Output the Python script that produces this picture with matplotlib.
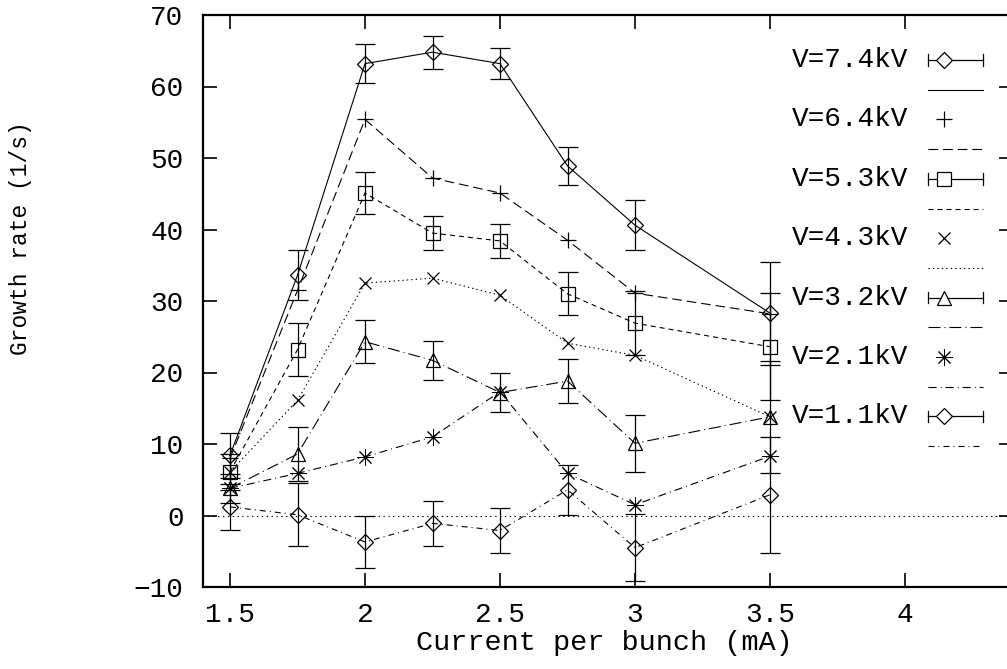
# Growth rate vs current per bunch, gnuplot-like look
import matplotlib
matplotlib.use('Agg')
import matplotlib.pyplot as plt

plt.rcParams['font.family'] = ['Liberation Mono', 'DejaVu Sans Mono']
plt.rcParams['lines.scale_dashes'] = False

# Data
current = [1.5, 1.75, 2.0, 2.25, 2.5, 2.75, 3.0, 3.5]

v74 = [8.4, 33.6, 63.2, 64.8, 63.2, 48.9, 40.6, 28.3]
e74 = [3.1, 3.5, 2.7, 2.3, 2.2, 2.7, 3.5, 7.2]
v64 = [8.0, 31.5, 55.4, 47.2, 45.1, 38.5, 31.1, 28.2]
v53 = [6.1, 23.2, 45.1, 39.5, 38.4, 31.0, 26.9, 23.6]
e53 = [2.5, 3.7, 2.9, 2.4, 2.4, 3.0, 4.5, 7.5]
v43 = [6.1, 16.1, 32.5, 33.2, 30.8, 24.1, 22.4, 13.8]
v32 = [3.8, 8.6, 24.3, 21.7, 17.2, 18.8, 10.1, 13.8]
e32 = [2.0, 3.8, 3.0, 2.7, 2.7, 3.1, 4.0, 7.8]
v21 = [3.8, 5.9, 8.2, 11.0, 17.3, 5.9, 1.5, 8.3]
v11 = [1.2, 0.1, -3.7, -1.1, -2.1, 3.6, -4.5, 2.9]
e11 = [3.2, 4.4, 3.6, 3.1, 3.1, 3.5, 4.7, 8.1]

labels = ['V=7.4kV', 'V=6.4kV', 'V=5.3kV', 'V=4.3kV', 'V=3.2kV', 'V=2.1kV', 'V=1.1kV']

# style per series: values, errors, marker, marker size, marker edge width, dash pattern
series = [
    (v74, e74, 'D', 8, 0.9, '-'),
    (v64, None, '+', 11, 0.9, (0, (7, 3.5))),
    (v53, e53, 's', 10, 0.9, (0, (3.6, 2.9))),
    (v43, None, 'x', 9, 0.9, (0, (1, 2.2))),
    (v32, e32, '^', 10, 0.9, (0, (8.6, 2.9, 0.7, 2.9))),
    (v21, None, (8, 2, 0), 12, 0.7, (0, (5.8, 2.9, 0.7, 2.9))),
    (v11, e11, 'D', 8, 0.9, (0, (4.3, 2.9, 0.7, 2.9))),
]

fig = plt.figure(figsize=(10.07, 6.69), dpi=100)
ax = fig.add_axes([203 / 1007, 82 / 669, 810 / 1007, 572 / 669])

ax.axhline(0, color='black', lw=0.8, ls=(0, (1, 2.5)))

for vals, errs, mk, ms, mw, ls in series:
    ax.plot(current, vals, color='black', lw=0.8, ls=ls)
    if errs is not None:
        ax.errorbar(current, vals, yerr=errs, fmt='none', ecolor='black',
                    elinewidth=0.9, capsize=7, capthick=0.9)
    ax.plot(current, vals, ls='none', marker=mk, ms=ms, mfc='none',
            mec='black', mew=mw)

ax.set_xlim(1.4, 4.4)
ax.set_ylim(-10, 70)
ax.set_xticks([1.5, 2, 2.5, 3, 3.5, 4])
ax.set_xticklabels(['1.5', '2', '2.5', '3', '3.5', '4'])
ax.set_yticks(range(-10, 71, 10))
ax.tick_params(direction='in', length=10, width=1.2, top=True, right=True,
               labelsize=20)
ax.tick_params(axis='x', pad=11)
ax.tick_params(axis='y', pad=14)
for sp in ax.spines.values():
    sp.set_linewidth(1.6)

ax.set_xlabel('Current per bunch (mA)', fontsize=20.5)
ax.xaxis.set_label_coords(0.496, -0.076)
ax.set_ylabel('Growth rate (1/s)', fontsize=16.5)
ax.yaxis.set_label_coords(-0.211, 0.61)

# gnuplot style key, two rows per series (points/errorbars, then line)
def fx(px):
    return (px - 203) / 810

def fy(py):
    return (587 - py) / 572

row = 29.7
for i, (vals, errs, mk, ms, mw, ls) in enumerate(series):
    y1 = fy(60 + 2 * i * row)
    y2 = fy(60 + (2 * i + 1) * row)
    ax.text(fx(908), y1, labels[i], transform=ax.transAxes, ha='right',
            va='center', fontsize=20)
    if errs is not None:
        ax.plot([fx(928), fx(983)], [y1, y1], transform=ax.transAxes,
                color='black', lw=0.9, clip_on=False)
        for xe in (928, 983):
            ax.plot([fx(xe), fx(xe)], [y1 - 0.01, y1 + 0.01],
                    transform=ax.transAxes, color='black', lw=0.9,
                    clip_on=False)
    ax.plot([fx(944)], [y1], transform=ax.transAxes, marker=mk, ms=ms,
            mfc='white' if errs is not None else 'none', mec='black',
            mew=mw, clip_on=False)
    ax.plot([fx(928), fx(983)], [y2, y2], transform=ax.transAxes,
            color='black', lw=0.8, ls=ls, clip_on=False)

fig.savefig('out.png', dpi=100)
